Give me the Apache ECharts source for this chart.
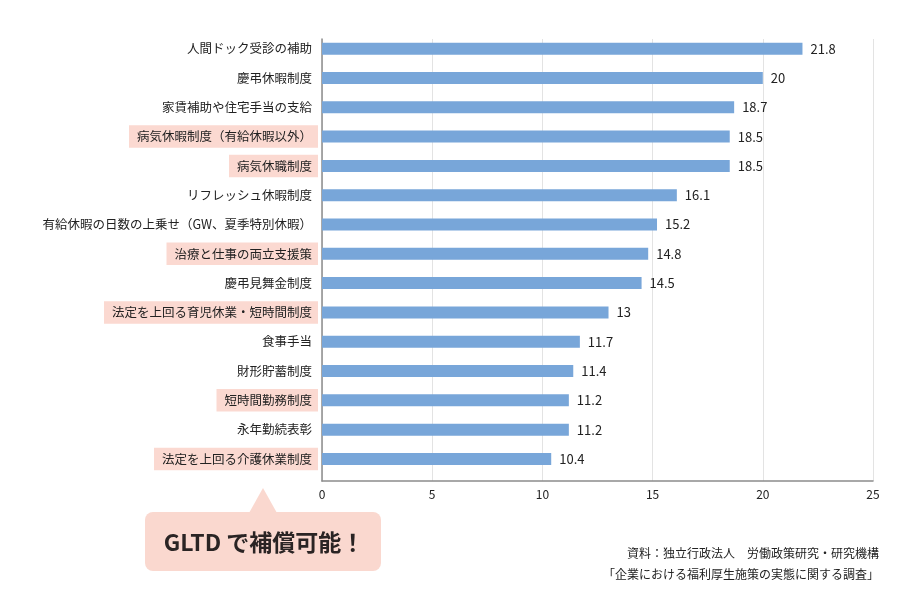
<!DOCTYPE html>
<html>
<head>
<meta charset="utf-8">
<script src="https://cdn.jsdelivr.net/npm/echarts@6/dist/echarts.min.js"></script>
<style>
  html, body { margin: 0; padding: 0; background: #fff; }
  #chart { width: 920px; height: 610px; }
</style>
</head>
<body>
<div id="chart"></div>
<script>
// 項目（上から順）
var categories = [
  '人間ドック受診の補助',
  '慶弔休暇制度',
  '家賃補助や住宅手当の支給',
  '病気休暇制度（有給休暇以外）',
  '病気休職制度',
  'リフレッシュ休暇制度',
  '有給休暇の日数の上乗せ（GW、夏季特別休暇）',
  '治療と仕事の両立支援策',
  '慶弔見舞金制度',
  '法定を上回る育児休業・短時間制度',
  '食事手当',
  '財形貯蓄制度',
  '短時間勤務制度',
  '永年勤続表彰',
  '法定を上回る介護休業制度'
];
var values = [21.8, 20, 18.7, 18.5, 18.5, 16.1, 15.2, 14.8, 14.5, 13, 11.7, 11.4, 11.2, 11.2, 10.4];
// GLTD で補償可能な項目
var highlighted = [
  '病気休暇制度（有給休暇以外）',
  '病気休職制度',
  '治療と仕事の両立支援策',
  '法定を上回る育児休業・短時間制度',
  '短時間勤務制度',
  '法定を上回る介護休業制度'
];
var xTicks = { min: 0, max: 25, interval: 5 };
var sourceLines = [
  '資料：独立行政法人　労働政策研究・研究機構',
  '「企業における福利厚生施策の実態に関する調査」'
];
var calloutText = 'GLTD で補償可能！';

var FONT = '"Noto Sans CJK JP", "Noto Sans", sans-serif';

var chart = echarts.init(document.getElementById('chart'));

var option = {
  backgroundColor: '#fff',
  animation: false,
  textStyle: { fontFamily: FONT },
  grid: [
    // 棒グラフ本体
    { left: 322, right: 47, top: 34, bottom: 136.4 },
    // 軸線・目盛り用
    { left: 322, right: 47, top: 39, bottom: 129 }
  ],
  xAxis: [
    {
      gridIndex: 0, type: 'value', min: xTicks.min, max: xTicks.max, interval: xTicks.interval,
      axisLine: { show: false }, axisTick: { show: false },
      axisLabel: { show: false }, splitLine: { show: false }
    },
    {
      gridIndex: 1, type: 'value', min: xTicks.min, max: xTicks.max, interval: xTicks.interval,
      axisLine: { show: true, lineStyle: { color: '#8c8c8c', width: 1.5 } },
      axisTick: { show: false },
      axisLabel: { color: '#222', fontSize: 12, margin: 7, fontFamily: FONT },
      splitLine: { show: true, lineStyle: { color: '#e3e3e3', width: 1 } }
    }
  ],
  yAxis: [
    {
      gridIndex: 0, type: 'category', data: categories, inverse: true,
      axisLine: { show: false }, axisTick: { show: false },
      axisLabel: {
        margin: 4,
        fontFamily: FONT,
        formatter: function (v) {
          return highlighted.indexOf(v) >= 0 ? '{hl|' + v + '}' : '{n|' + v + '}';
        },
        rich: {
          hl: {
            fontSize: 12.5, color: '#222', lineHeight: 13, fontFamily: FONT,
            backgroundColor: '#fbd9d1', padding: [5, 6, 5, 8]
          },
          n: {
            fontSize: 12.5, color: '#222', lineHeight: 13, fontFamily: FONT,
            padding: [5, 6, 5, 8]
          }
        }
      }
    },
    {
      gridIndex: 1, type: 'value', min: 0, max: 1,
      axisLine: { show: true, lineStyle: { color: '#8c8c8c', width: 1.5 } },
      axisTick: { show: false }, axisLabel: { show: false }, splitLine: { show: false }
    }
  ],
  series: [
    {
      type: 'bar',
      xAxisIndex: 0, yAxisIndex: 0,
      data: values,
      barWidth: 12,
      itemStyle: { color: '#78a6d9' },
      label: {
        show: true, position: 'right', distance: 8,
        color: '#222', fontSize: 13, fontFamily: FONT
      },
      z: 3
    }
  ],
  graphic: [
    {
      type: 'polygon',
      shape: { points: [[263, 488], [249, 513], [277, 513]] },
      style: { fill: '#fad8cf' }
    },
    {
      type: 'rect',
      shape: { x: 145, y: 512, width: 236, height: 59, r: 8 },
      style: { fill: '#fad8cf' }
    },
    {
      type: 'text',
      x: 264, y: 542,
      style: {
        text: calloutText, fill: '#2a2424', fontSize: 23, fontWeight: 'bold',
        fontFamily: FONT, align: 'center', verticalAlign: 'middle'
      }
    },
    {
      type: 'text',
      x: 879, y: 553,
      style: {
        text: sourceLines[0], fill: '#222', fontSize: 12,
        fontFamily: FONT, align: 'right', verticalAlign: 'middle'
      }
    },
    {
      type: 'text',
      x: 879, y: 574,
      style: {
        text: sourceLines[1], fill: '#222', fontSize: 12,
        fontFamily: FONT, align: 'right', verticalAlign: 'middle'
      }
    }
  ]
};

chart.setOption(option);
</script>
</body>
</html>
